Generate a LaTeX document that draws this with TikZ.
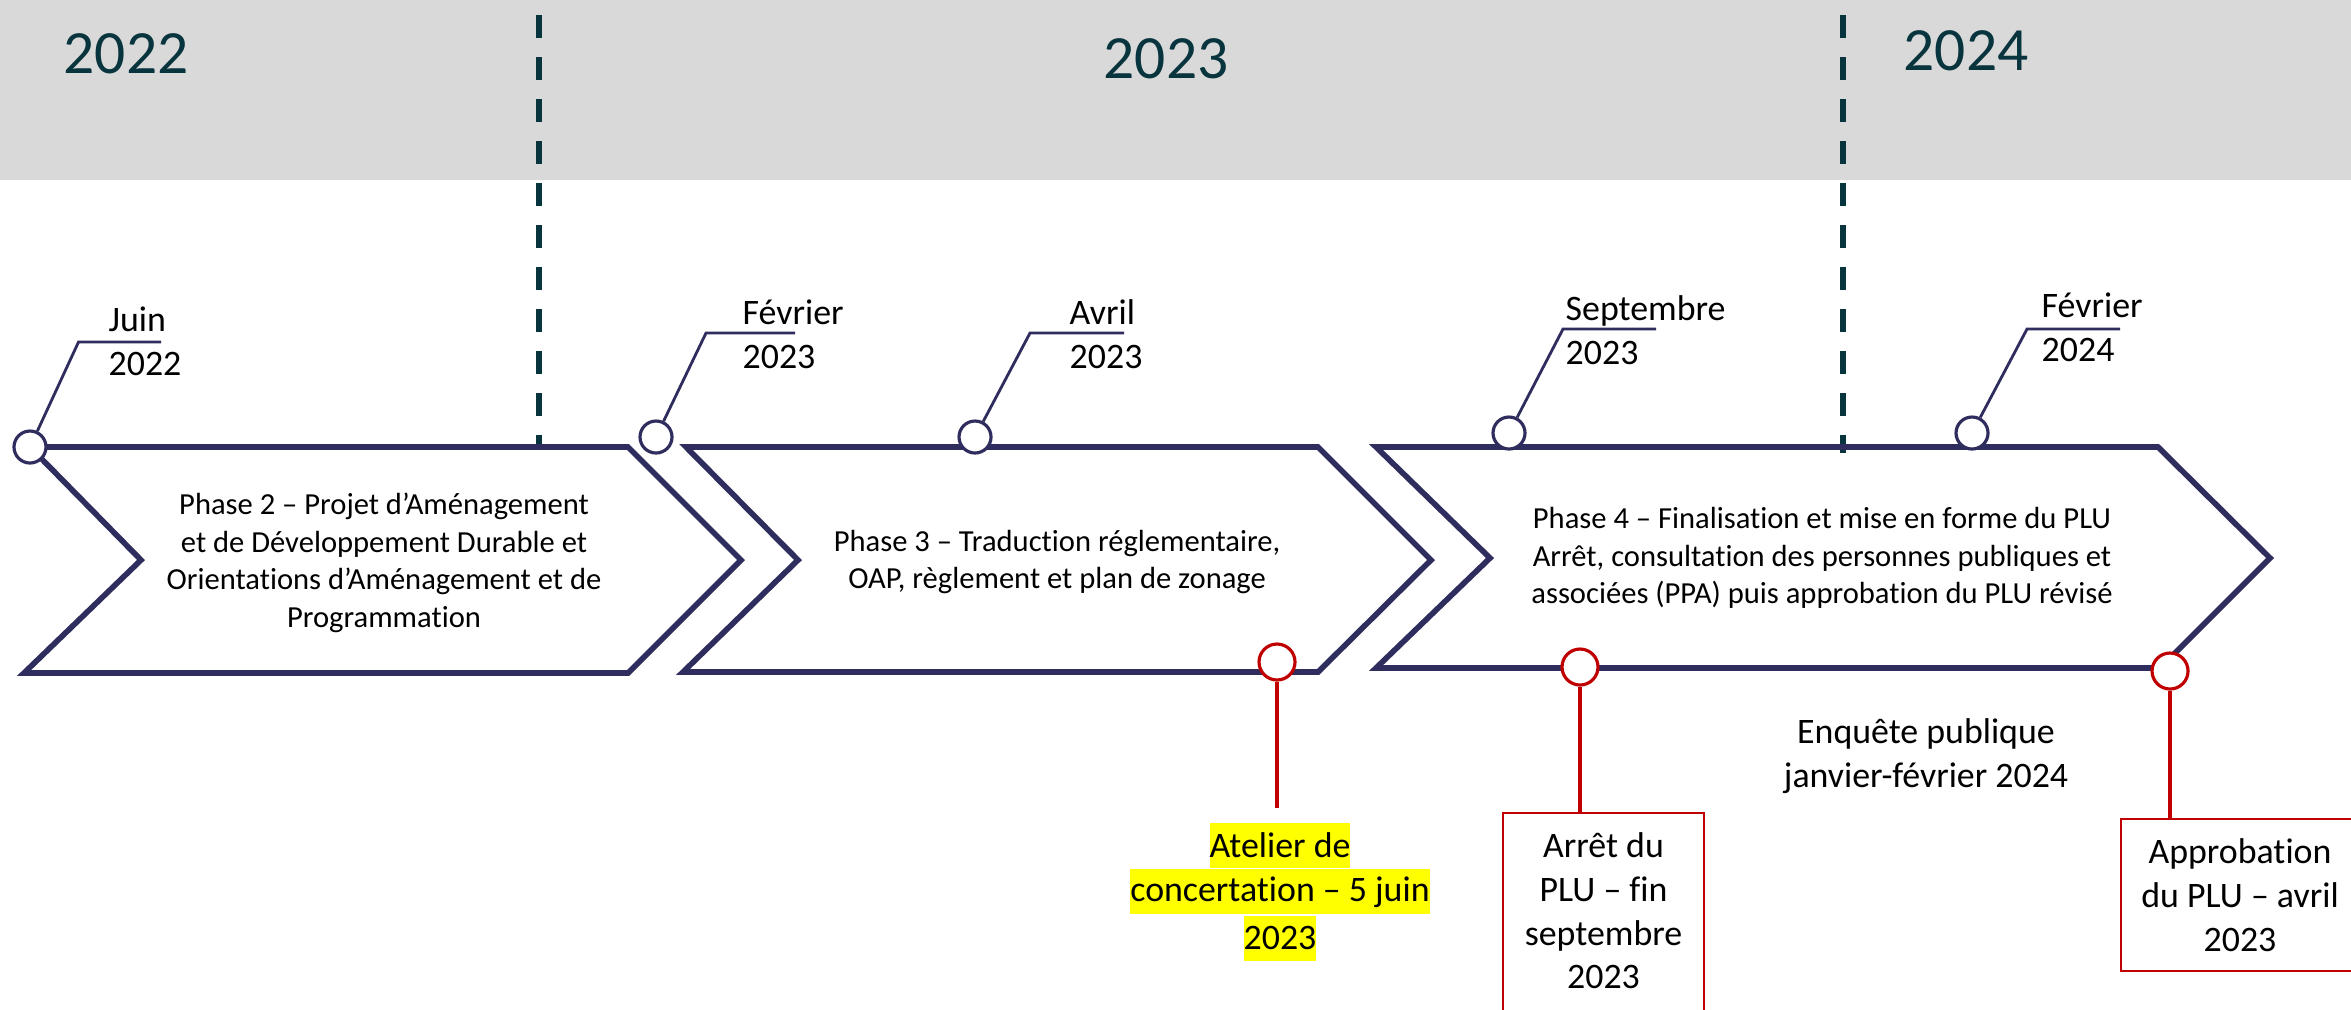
\documentclass[tikz,border=0pt]{standalone}
\usepackage{fontspec}
\setmainfont{Carlito}[Ligatures=NoCommon]
\usetikzlibrary{positioning}

\definecolor{navyc}{RGB}{47,44,94}
\definecolor{redc}{RGB}{192,0,0}
\definecolor{yearteal}{RGB}{8,52,62}
\definecolor{bandgray}{RGB}{217,217,217}
\definecolor{hlyellow}{RGB}{255,255,0}

\begin{document}
\begin{tikzpicture}[
    chevron/.style={draw=navyc, line width=1.6pt, line join=miter},
    navydot/.style={circle, draw=navyc, fill=white, line width=0.9pt, minimum size=0.32cm, inner sep=0},
    reddot/.style={circle, draw=redc, fill=white, line width=0.9pt, minimum size=0.36cm, inner sep=0},
    leader/.style={draw=navyc, line width=0.8pt},
    redline/.style={draw=redc, line width=0.9pt},
    datelbl/.style={font=\fontsize{10.2}{12.4}\selectfont, align=left, anchor=west, inner sep=0},
    phasetxt/.style={font=\fontsize{8.7}{10.7}\selectfont, align=center, inner sep=0},
    yearlbl/.style={font=\fontsize{17.5}{20}\selectfont, text=yearteal, inner sep=0},
    yearsep/.style={draw=yearteal, line width=1.8pt, dash pattern=on 0.23cm off 0.19cm},
    redbox/.style={draw=redc, line width=0.6pt, fill=white, font=\fontsize{10.2}{12.4}\selectfont, align=center, inner xsep=0, inner ysep=0.2cm, anchor=north},
    hl/.style={fill=hlyellow, inner xsep=0pt, inner ysep=0pt, minimum height=0.45cm, font=\fontsize{10.2}{12.4}\selectfont},
]
\useasboundingbox (0,0) rectangle (23.51,-10.09);
\clip (0,0) rectangle (23.51,-10.09);
\fill[white] (0,0) rectangle (23.51,-10.09);

% years band
\fill[bandgray] (0,0) rectangle (23.51,-1.80);
\node[yearlbl] (y22) at (1.26,-0.535) {2022};
\node[yearlbl] (y23) at (11.66,-0.59) {2023};
\node[yearlbl] (y24) at (19.66,-0.51) {2024};
\draw[yearsep] (5.39,-0.15) -- (5.39,-4.47);
\draw[yearsep] (18.43,-0.15) -- (18.43,-4.53);

% phases
\draw[chevron] (0.30,-4.47) -- (6.28,-4.47) -- (7.41,-5.60) -- (6.28,-6.73) -- (0.24,-6.73) -- (1.41,-5.60) -- cycle;
\draw[chevron] (6.86,-4.47) -- (13.18,-4.47) -- (14.31,-5.60) -- (13.18,-6.72) -- (6.83,-6.72) -- (7.98,-5.60) -- cycle;
\draw[chevron] (13.76,-4.47) -- (21.58,-4.47) -- (22.70,-5.58) -- (21.60,-6.68) -- (13.76,-6.68) -- (14.90,-5.58) -- cycle;

\node[phasetxt] (p2) at (3.84,-5.63) {Phase 2 – Projet d’Aménagement\\et de Développement Durable et\\Orientations d’Aménagement et de\\Programmation};
\node[phasetxt] (p3) at (10.57,-5.62) {Phase 3 – Traduction réglementaire,\\OAP, règlement et plan de zonage};
\node[phasetxt] (p4) at (18.22,-5.58) {Phase 4 – Finalisation et mise en forme du PLU\\Arrêt, consultation des personnes publiques et\\associées (PPA) puis approbation du PLU révisé};

% dates
\node[navydot] (juin) at (0.30,-4.47) {};
\node[navydot] (fev23) at (6.56,-4.37) {};
\node[navydot] (avr23) at (9.75,-4.37) {};
\node[navydot] (sep23) at (15.09,-4.33) {};
\node[navydot] (fev24) at (19.72,-4.33) {};

\coordinate (juinK) at (0.785,-3.42);  \coordinate (juinE) at (1.61,-3.42);
\coordinate (fev23K) at (7.06,-3.33);  \coordinate (fev23E) at (7.95,-3.33);
\coordinate (avr23K) at (10.30,-3.33); \coordinate (avr23E) at (11.24,-3.33);
\coordinate (sep23K) at (15.63,-3.29); \coordinate (sep23E) at (16.56,-3.29);
\coordinate (fev24K) at (20.27,-3.29); \coordinate (fev24E) at (21.20,-3.29);

\draw[leader] (juin) -- (juinK) -- (juinE);
\draw[leader] (fev23) -- (fev23K) -- (fev23E);
\draw[leader] (avr23) -- (avr23K) -- (avr23E);
\draw[leader] (sep23) -- (sep23K) -- (sep23E);
\draw[leader] (fev24) -- (fev24K) -- (fev24E);

\node[datelbl] (juinT) at (1.08,-3.415) {Juin\\2022};
\node[datelbl] (fev23T) at (7.42,-3.34) {Février\\2023};
\node[datelbl] (avr23T) at (10.69,-3.34) {Avril\\2023};
\node[datelbl] (sep23T) at (15.65,-3.30) {Septembre\\2023};
\node[datelbl] (fev24T) at (20.41,-3.27) {Février\\2024};

% events
\node[reddot] (atelier) at (12.77,-6.62) {};
\node[reddot] (arret) at (15.80,-6.67) {};
\node[reddot] (appro) at (21.70,-6.71) {};

\node[hl] (at1) at (12.80,-8.455) {Atelier de~};
\node[hl, below=0pt of at1] (at2) {concertation – 5 juin~};
\node[hl, below=0pt of at2] (at3) {2023};
\coordinate (atelierE) at (12.77,-8.08);
\draw[redline] (atelier) -- (atelierE);

\node[redbox, minimum width=2.01cm, text depth=1.8cm] (arretB) at (16.035,-8.12) {Arrêt du\\PLU – fin\\septembre\\2023};
\draw[redline] (arret) -- (arret |- arretB.north);

\node[redbox, minimum width=2.38cm] (approB) at (22.40,-8.18) {Approbation\\du PLU – avril\\2023};
\draw[redline] (appro) -- (appro |- approB.north);

\node[datelbl, align=center, anchor=center] (enq) at (19.26,-7.56) {Enquête publique\\janvier-février 2024};

\end{tikzpicture}
\end{document}
